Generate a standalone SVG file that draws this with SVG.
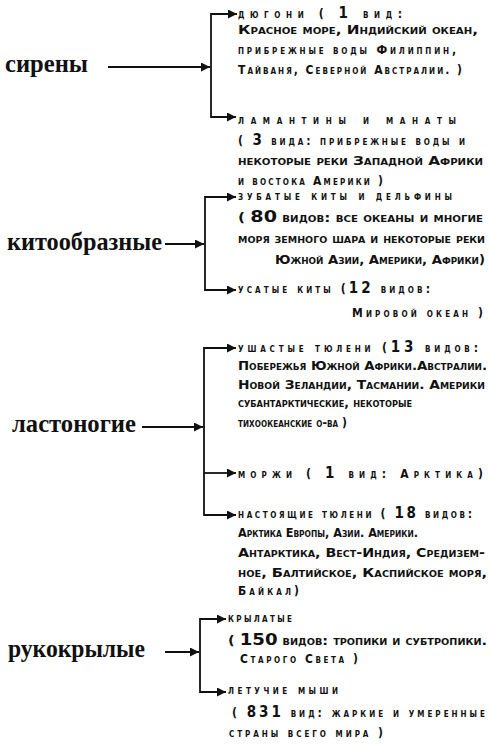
<svg xmlns="http://www.w3.org/2000/svg" width="490" height="747" viewBox="0 0 490 747">
<style>
.lbl{font-family:"Liberation Serif","DejaVu Serif",serif;font-weight:bold;font-size:26px;fill:#111}
.t{font-family:"DejaVu Sans Condensed","DejaVu Sans","Liberation Sans",sans-serif;font-weight:bold;font-size:12px;font-variant:small-caps;fill:#111}
.n{font-size:15px}
.c{fill:none;stroke:#111;stroke-width:1.8}
</style>
<defs>
<marker id="ah" markerUnits="userSpaceOnUse" markerWidth="9" markerHeight="9" refX="9" refY="4.5" orient="auto">
<path d="M0,0 L9,4.5 L0,9 z" fill="#111"/>
</marker>
</defs>
<rect width="490" height="747" fill="#fff"/>
<g id="connectors">
<path class="c" d="M108,67 H210" marker-end="url(#ah)"/>
<path class="c" d="M211,67 V14 H237" marker-end="url(#ah)"/>
<path class="c" d="M211,67 V117 H236" marker-end="url(#ah)"/>
<path class="c" d="M165,244 H204" marker-end="url(#ah)"/>
<path class="c" d="M205,244 V197 H236" marker-end="url(#ah)"/>
<path class="c" d="M205,244 V290 H236" marker-end="url(#ah)"/>
<path class="c" d="M142,427 H203" marker-end="url(#ah)"/>
<path class="c" d="M204,427 V348 H236" marker-end="url(#ah)"/>
<path class="c" d="M204,427 V515 H236" marker-end="url(#ah)"/>
<path class="c" d="M204,473 H236" marker-end="url(#ah)"/>
<path class="c" d="M165,652 H199" marker-end="url(#ah)"/>
<path class="c" d="M200,652 V619 H226" marker-end="url(#ah)"/>
<path class="c" d="M200,652 V692 H226" marker-end="url(#ah)"/>
</g>
<g id="sireny"><text class="lbl" x="5" y="72" textLength="83" lengthAdjust="spacingAndGlyphs">сирены</text></g>
<g id="kitoobraznye"><text class="lbl" x="7" y="250" textLength="155" lengthAdjust="spacingAndGlyphs">китообразные</text></g>
<g id="lastonogie"><text class="lbl" x="12" y="432" textLength="124" lengthAdjust="spacingAndGlyphs">ластоногие</text></g>
<g id="rukokrylye"><text class="lbl" x="8" y="657" textLength="137" lengthAdjust="spacingAndGlyphs">рукокрылые</text></g>
<g id="dyugoni">
<text class="t" x="238" y="18" textLength="164">дюгони ( <tspan class="n">1</tspan> вид:</text>
<text class="t" x="238" y="34" textLength="240" lengthAdjust="spacingAndGlyphs">Красное море, Индийский океан,</text>
<text class="t" x="238" y="54" textLength="218">прибрежные воды Филиппин,</text>
<text class="t" x="238" y="74" textLength="224">Тайваня, Северной Австралии. )</text>
</g>
<g id="lamantiny">
<text class="t" x="238" y="124" textLength="218">ламантины и манаты</text>
<text class="t" x="238" y="145" textLength="227">( <tspan class="n">3</tspan> вида: прибрежные воды и</text>
<text class="t" x="238" y="165" textLength="245" lengthAdjust="spacingAndGlyphs">некоторые реки Западной Африки</text>
<text class="t" x="238" y="185" textLength="145">и востока Америки )</text>
</g>
<g id="zubatye">
<text class="t" x="238" y="200" textLength="214">зубатые киты и дельфины</text>
<text class="t" x="238" y="222" textLength="245" lengthAdjust="spacingAndGlyphs">( <tspan class="n">80</tspan> видов: все океаны и многие</text>
<text class="t" x="238" y="243" textLength="247" lengthAdjust="spacingAndGlyphs">моря земного шара и некоторые реки</text>
<text class="t" x="275" y="264" textLength="210" lengthAdjust="spacingAndGlyphs">Южной Азии, Америки, Африки)</text>
</g>
<g id="usatye">
<text class="t" x="238" y="293" textLength="192">усатые киты (<tspan class="n">12</tspan> видов:</text>
<text class="t" x="352" y="317" textLength="131">Мировой океан )</text>
</g>
<g id="ushastye">
<text class="t" x="238" y="352" textLength="240">ушастые тюлени (<tspan class="n">13</tspan> видов:</text>
<text class="t" x="238" y="370" textLength="249" lengthAdjust="spacingAndGlyphs">Побережья Южной Африки.Австралии.</text>
<text class="t" x="238" y="389" textLength="247" lengthAdjust="spacingAndGlyphs">Новой Зеландии, Тасмании. Америки</text>
<text class="t" x="238" y="407" textLength="174" lengthAdjust="spacingAndGlyphs">субантарктические, некоторые</text>
<text class="t" x="238" y="427" textLength="109">тихоокеанские о-ва )</text>
</g>
<g id="morzhi">
<text class="t" x="238" y="478" textLength="245">моржи ( <tspan class="n">1</tspan> вид: Арктика)</text>
</g>
<g id="nastoyashchie">
<text class="t" x="238" y="518" textLength="234">настоящие тюлени ( <tspan class="n">18</tspan> видов:</text>
<text class="t" x="238" y="537" textLength="180" lengthAdjust="spacingAndGlyphs">Арктика Европы, Азии. Америки.</text>
<text class="t" x="238" y="557" textLength="247" lengthAdjust="spacingAndGlyphs">Антарктика, Вест-Индия, Средизем-</text>
<text class="t" x="238" y="577" textLength="249" lengthAdjust="spacingAndGlyphs">ное, Балтийское, Каспийское моря,</text>
<text class="t" x="238" y="595" textLength="61">Байкал)</text>
</g>
<g id="krylatye">
<text class="t" x="228" y="622" textLength="64">крылатые</text>
<text class="t" x="228" y="645" textLength="259" lengthAdjust="spacingAndGlyphs">( <tspan class="n">150</tspan> видов: тропики и субтропики.</text>
<text class="t" x="240" y="663" textLength="118">Старого Света )</text>
</g>
<g id="letuchie">
<text class="t" x="228" y="694" textLength="110">летучие мыши</text>
<text class="t" x="232" y="717" textLength="253">( <tspan class="n">831</tspan> вид: жаркие и умеренные</text>
<text class="t" x="229" y="737" textLength="154">страны всего мира )</text>
</g>
</svg>
